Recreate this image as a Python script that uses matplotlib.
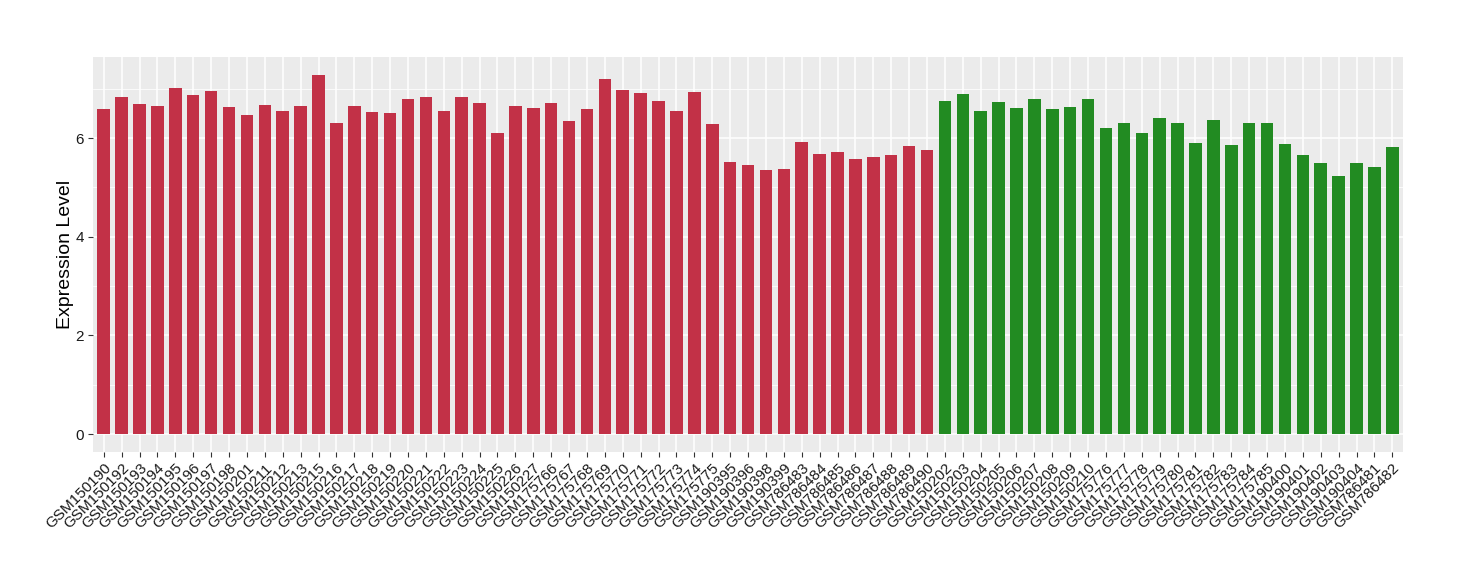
import matplotlib
matplotlib.use("Agg")
import matplotlib.pyplot as plt
from matplotlib.ticker import MultipleLocator

plt.rcParams['font.family'] = ['Liberation Sans', 'DejaVu Sans']

# samples of the first group (red)
group1_samples = [
    "GSM150190", "GSM150192", "GSM150193", "GSM150194", "GSM150195", "GSM150196",
    "GSM150197", "GSM150198", "GSM150201", "GSM150211", "GSM150212", "GSM150213",
    "GSM150215", "GSM150216", "GSM150217", "GSM150218", "GSM150219", "GSM150220",
    "GSM150221", "GSM150222", "GSM150223", "GSM150224", "GSM150225", "GSM150226",
    "GSM150227", "GSM175766", "GSM175767", "GSM175768", "GSM175769", "GSM175770",
    "GSM175771", "GSM175772", "GSM175773", "GSM175774", "GSM175775", "GSM190395",
    "GSM190396", "GSM190398", "GSM190399", "GSM786483", "GSM786484", "GSM786485",
    "GSM786486", "GSM786487", "GSM786488", "GSM786489", "GSM786490",
]
group1_values = [
    6.59, 6.83, 6.69, 6.65, 7.01, 6.87, 6.95, 6.63, 6.46, 6.67, 6.54, 6.65,
    7.28, 6.30, 6.65, 6.52, 6.50, 6.80, 6.84, 6.54, 6.84, 6.72, 6.11, 6.66,
    6.62, 6.72, 6.34, 6.60, 7.19, 6.97, 6.91, 6.76, 6.54, 6.93, 6.28, 5.51,
    5.45, 5.36, 5.38, 5.93, 5.67, 5.71, 5.57, 5.61, 5.65, 5.83, 5.75,
]

# samples of the second group (green)
group2_samples = [
    "GSM150202", "GSM150203", "GSM150204", "GSM150205", "GSM150206", "GSM150207",
    "GSM150208", "GSM150209", "GSM150210", "GSM175776", "GSM175777", "GSM175778",
    "GSM175779", "GSM175780", "GSM175781", "GSM175782", "GSM175783", "GSM175784",
    "GSM175785", "GSM190400", "GSM190401", "GSM190402", "GSM190403", "GSM190404",
    "GSM786481", "GSM786482",
]
group2_values = [
    6.76, 6.89, 6.54, 6.74, 6.62, 6.80, 6.60, 6.64, 6.80, 6.20, 6.30, 6.10,
    6.40, 6.30, 5.91, 6.36, 5.85, 6.30, 6.30, 5.89, 5.65, 5.49, 5.24, 5.49,
    5.41, 5.81,
]

red = "#C23147"
green = "#228B22"

labels = group1_samples + group2_samples
values = group1_values + group2_values
colors = [red] * len(group1_samples) + [green] * len(group2_samples)
x = range(len(labels))

fig = plt.figure(figsize=(14.6, 5.8), dpi=100)
ax = fig.add_axes([0.0637, 0.2207, 0.8973, 0.681])
ax.set_facecolor("#EBEBEB")

ax.bar(x, values, width=0.7, color=colors, zorder=3)

ymax = max(values)
ax.set_xlim(-0.6, len(labels) - 0.4)
ax.set_ylim(-0.05 * ymax, ymax * 1.05)

ax.yaxis.set_major_locator(MultipleLocator(2))
ax.yaxis.set_minor_locator(MultipleLocator(1))
ax.grid(which="major", color="white", linewidth=1.1, zorder=0)
ax.grid(which="minor", axis="y", color="white", linewidth=0.55, zorder=0)
ax.set_axisbelow(True)

ax.set_xticks(list(x))
ax.set_xticklabels(labels, rotation=45, ha="right", va="top",
                   rotation_mode="anchor", fontsize=11)
ax.tick_params(axis="both", which="major", length=3.5, width=0.8,
               color="#333333", labelsize=11, labelcolor="#1A1A1A", pad=3)
ax.tick_params(axis="y", which="minor", length=0)

for s in ax.spines.values():
    s.set_visible(False)

ax.set_ylabel("Expression Level", fontsize=14, labelpad=1)

fig.savefig("out.png", dpi=100)
